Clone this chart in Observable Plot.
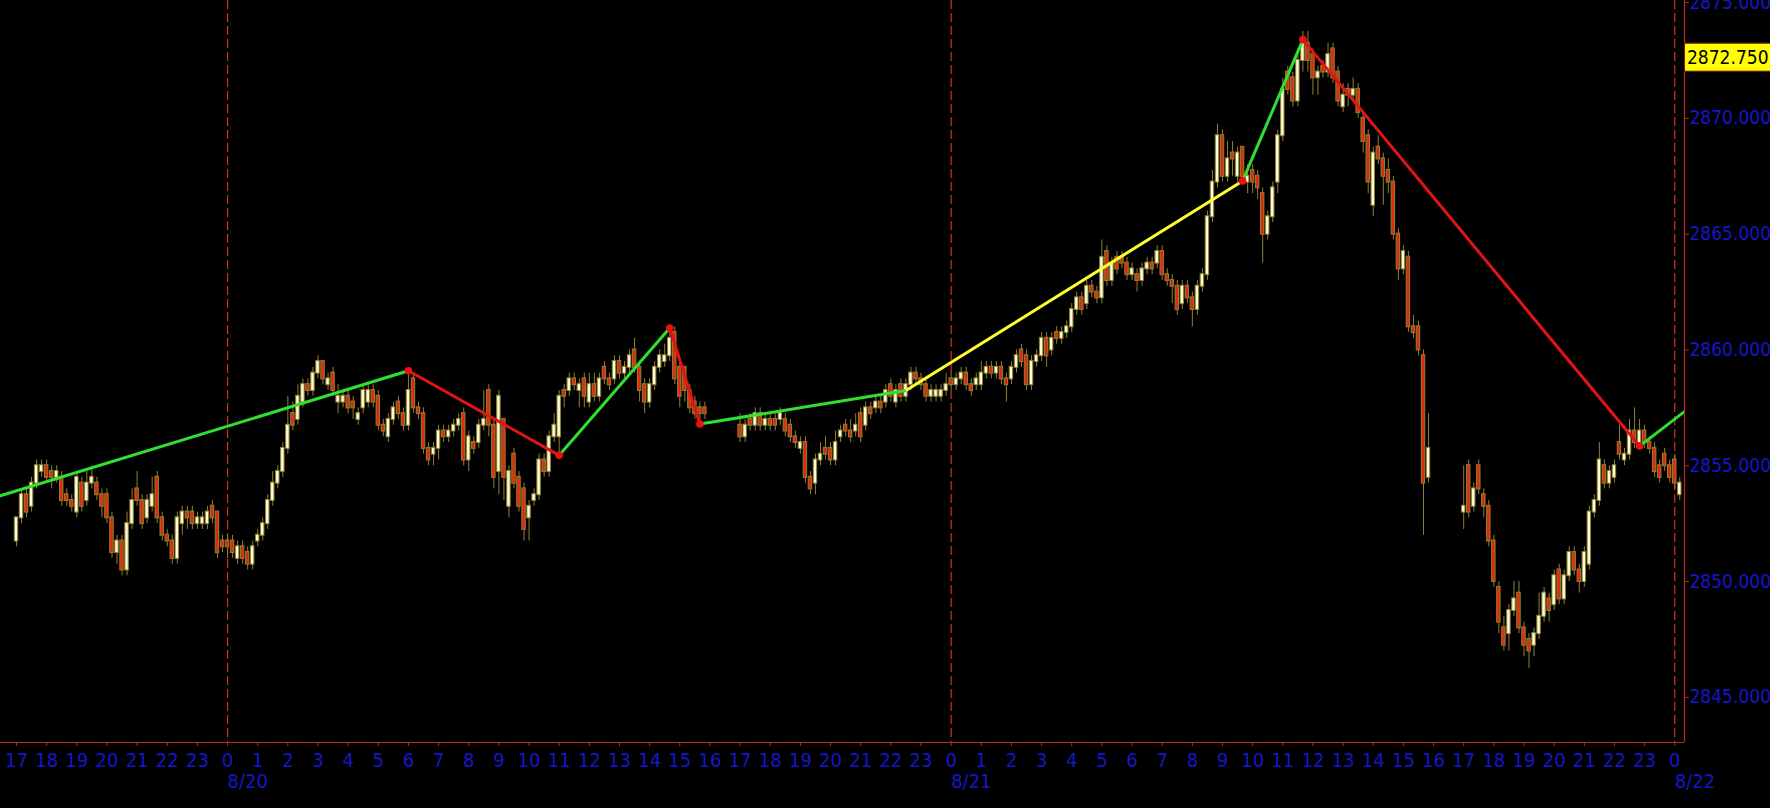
<!DOCTYPE html>
<html><head><meta charset="utf-8">
<script src="https://cdn.jsdelivr.net/npm/d3@7"></script>
<script src="https://cdn.jsdelivr.net/npm/@observablehq/plot@0.6"></script>
<style>html,body{margin:0;padding:0;background:#000;overflow:hidden}</style>
</head><body><div id="chart"></div>
<script>
// ---- DATA: 10-minute bars, [open, high, low, close] ----
const sessionStart = ["2018-08-19T17:00Z", "2018-08-20T17:00Z", "2018-08-21T17:00Z"];

const bars1 = [
[2851.75,2852.75,2851.5,2852.75],[2852.75,2854,2852.5,2853.75],[2853.75,2854,2852.75,2853],[2853.25,2854.5,2853,2854.25],
[2854.25,2855.25,2854,2855],[2854.75,2855.25,2854.5,2855],[2855,2855.25,2854.25,2854.5],[2854.75,2855,2854,2854.5],
[2854.5,2855,2854.25,2854.75],[2854.5,2854.75,2853.25,2853.5],[2853.75,2854,2853.25,2853.5],[2853.5,2853.75,2853,2853.25],
[2853,2854.75,2852.75,2854.5],[2854.25,2854.5,2853,2853.25],[2853.5,2854.75,2853.25,2854.25],[2854.25,2855,2854,2854.5],
[2854.25,2854.5,2853.5,2853.75],[2853.75,2854,2852.75,2853.25],[2853.75,2854,2852.5,2852.75],[2852.75,2853,2851,2851.25],
[2851.25,2852,2850.75,2851.75],[2851.75,2852,2850.25,2850.5],[2850.5,2853,2850.25,2852.5],[2852.5,2854,2852.25,2853.5],
[2854,2854.75,2853.25,2853.5],[2853.5,2853.75,2852.25,2852.5],[2852.75,2853.75,2852.5,2853.5],[2853.25,2854.5,2853,2853.75],
[2854.5,2854.75,2852.5,2852.75],[2852.75,2853,2851.75,2852],[2852,2852.25,2851.5,2851.75],[2851.75,2852,2850.75,2851],
[2851,2853,2850.75,2852.75],[2852.5,2853.25,2852,2853],[2853,2853.25,2852.25,2852.75],[2853,2853.25,2852.25,2852.5],
[2852.5,2853,2852.25,2852.75],[2852.5,2853,2852.25,2852.75],[2852.5,2853.25,2852.25,2853],[2853.25,2853.5,2852.5,2852.75],
[2853,2853,2851,2851.25],[2851.75,2852,2851.25,2851.5],[2851.75,2852,2851,2851.5],[2851.75,2852,2851,2851.25],
[2851,2851.75,2850.75,2851.5],[2851.5,2851.75,2850.75,2851],[2851.25,2851.5,2850.5,2850.75],[2850.75,2851.75,2850.5,2851.5],
[2851.75,2852.25,2851.5,2852],[2852,2852.75,2851.75,2852.5],[2852.5,2853.75,2852.25,2853.5],[2853.5,2854.75,2853.25,2854.25],
[2854.25,2855,2854,2854.75],[2854.75,2856,2854.5,2855.75],[2855.75,2858,2855.5,2856.75],[2857.25,2857.75,2856.5,2856.75],
[2857,2858.5,2856.75,2858],
[2857.75,2858.75,2857.5,2858.5],[2858.5,2858.75,2858,2858.25],[2858.25,2859.25,2858,2859],[2859,2859.75,2858.75,2859.5],
[2859.5,2859.5,2858.5,2858.75],[2858.5,2859,2858.25,2858.75],[2859,2859.25,2858,2858.25],[2857.75,2858.5,2857.25,2858],
[2857.75,2858.25,2857.5,2858],[2858,2858.25,2857.25,2857.5],[2857.75,2858,2857,2857.5],[2857,2857.5,2856.75,2857.25],
[2857.5,2858.5,2857.25,2858.25],[2857.75,2858.5,2857.5,2858.25],[2858.25,2858.5,2857.5,2857.75],[2858,2858.25,2856.5,2856.75],
[2856.75,2857,2856.25,2856.5],[2856.25,2857.25,2856,2857],[2857,2857.75,2856.75,2857.5],[2857.75,2858,2857,2857.25],
[2857.25,2857.5,2856.5,2856.75],[2856.75,2859,2856.5,2858.25],[2858.75,2859,2857.25,2857.5],[2857.5,2857.75,2857,2857.25],
[2857.25,2857.5,2855.5,2855.75],[2855.75,2856,2855,2855.25],[2855.5,2856,2855,2855.75],[2855.75,2856.75,2855.25,2856.5],
[2856.5,2856.75,2856,2856.25],[2856.25,2856.75,2856,2856.5],[2856.5,2857,2856.25,2856.75],[2856.75,2857.25,2856.5,2857],
[2857.25,2857.5,2855,2855.25],[2855.25,2856.5,2854.75,2856.25],[2856,2856.25,2855.5,2855.75],[2856,2857,2855.75,2856.75],
[2856.75,2858.25,2856.5,2857],[2858.25,2858.5,2856.25,2856.75],[2856.75,2857,2854,2854.5],[2854.75,2858.25,2853.75,2858],
[2857,2857,2853.5,2854.5],[2853.25,2855,2852.75,2854.75],[2855.5,2855.75,2854,2854.25],[2854.5,2854.75,2853,2853.25],
[2854,2854.25,2851.75,2852.25],[2852.75,2853.5,2851.75,2853.25],[2853.5,2854,2853.25,2853.75],[2853.75,2855.5,2853.5,2855.25],
[2855.25,2855.5,2854.5,2854.75],[2854.75,2856.5,2854.5,2856.25],[2856.25,2857.25,2856,2856.75],[2856.25,2858.25,2855.5,2858],
[2858.25,2858.5,2857.5,2858],[2858.25,2859,2858,2858.75],[2858.75,2859,2858.25,2858.5],[2858.25,2858.75,2857.5,2858.5],
[2858.75,2859,2857.5,2858],[2857.75,2859,2857.5,2858.5],[2858.5,2859,2857.75,2858],[2858,2859,2857.75,2858.75],
[2859.25,2859.5,2858.5,2858.75],[2858.75,2859,2858.25,2858.5],[2858.75,2859.75,2858.5,2859.5],[2859.5,2859.75,2858.75,2859],
[2859,2859.5,2858.75,2859.25],[2859.25,2860,2859,2859.75],[2860,2860.5,2859,2859.25],[2859.25,2859.5,2857.75,2858.25],
[2858.5,2858.75,2857.25,2857.75],[2857.75,2858.75,2857.5,2858.5],[2858.5,2859.5,2858.25,2859.25],[2859.25,2860,2859,2859.75],
[2859.5,2860.25,2859.25,2859.75],[2859.75,2861,2859.5,2860.5],[2860.75,2861,2858.5,2858.75],[2859.25,2859.5,2857.5,2858],
[2859.25,2859.25,2857.75,2858.25],[2858.25,2858.5,2857.25,2857.5],[2857.75,2858,2857,2857.25],[2857.5,2857.75,2856.75,2857.25],
[2857.5,2857.75,2857,2857.25]
];

const bars2 = [
[2856.75,2857.25,2856,2856.25],[2856.25,2857,2856,2856.75],[2857,2857.25,2856.5,2856.75],[2856.75,2857.5,2856.5,2857.25],
[2857.25,2857.5,2856.5,2856.75],[2856.75,2857.25,2856.5,2857],[2857,2857.25,2856.5,2856.75],[2857,2857.25,2856.5,2856.75],
[2857,2857.5,2856.75,2857.25],[2857,2857.25,2856.25,2856.5],[2856.75,2857,2856,2856.25],[2856.25,2856.5,2855.75,2856],
[2855.75,2856.25,2855.5,2856],[2856,2856.25,2854.25,2854.5],[2854.5,2854.75,2853.75,2854],[2854.25,2855.5,2853.75,2855.25],
[2855.25,2856,2855,2855.5],[2855.75,2856.25,2855.25,2855.5],[2855.75,2856,2855,2855.25],[2855.25,2856.5,2855,2856],
[2856.25,2856.75,2856,2856.5],[2856.75,2857,2856.25,2856.5],[2856.5,2857,2856,2856.25],[2856.5,2857.25,2856.25,2856.75],
[2857.25,2857.5,2856,2856.25],[2856.75,2857.75,2856.5,2857.5],[2857.5,2857.75,2857,2857.25],[2857.5,2858,2857.25,2857.75],
[2857.75,2858,2857.25,2857.5],[2857.75,2858.5,2857.5,2858.25],[2858.5,2858.75,2857.75,2858],[2857.75,2858.5,2857.5,2858.25],
[2858.5,2858.75,2857.75,2858],[2858,2858.75,2857.75,2858.5],[2858.5,2859.25,2858.25,2859],[2859,2859.25,2858.5,2858.75],
[2858.75,2859,2858.25,2858.5],[2858.5,2858.75,2857.75,2858],[2858,2858.5,2857.75,2858.25],[2858,2858.5,2857.75,2858.25],
[2858,2858.5,2857.75,2858.25],[2858.25,2859,2858,2858.5],[2858.75,2859,2858.25,2858.5],[2858.5,2859,2858.25,2858.75],
[2858.75,2859.25,2858.5,2859],[2859,2859.25,2858.25,2858.5],[2858.5,2858.75,2858,2858.25],[2858.5,2859,2858.25,2858.75],
[2858.5,2859.5,2858.25,2859],[2859,2859.5,2858.75,2859.25],[2859.25,2859.5,2858.75,2859],[2859,2859.5,2858.75,2859.25],
[2859.25,2859.5,2858.5,2858.75],[2858.75,2859,2857.75,2858.5],[2858.75,2859.5,2858.5,2859.25],[2859.25,2860,2859,2859.75],
[2860,2860.25,2859.25,2859.5],[2859.75,2860,2858.25,2858.5],[2858.5,2859.75,2858.25,2859.5],[2859.5,2860,2859.25,2859.75],
[2859.75,2860.75,2859.5,2860.5],[2860.5,2860.75,2859.25,2859.75],[2860,2860.75,2859.75,2860.5],[2860.75,2861,2860.25,2860.5],
[2860.5,2861,2860.25,2860.75],[2860.75,2861.25,2860.5,2861],[2861,2862,2860.75,2861.75],[2861.75,2862.5,2861.5,2862.25],
[2862.25,2862.5,2861.5,2861.75],[2862,2863,2861.75,2862.75],[2862.75,2863,2862.25,2862.5],[2862.5,2862.75,2862,2862.25],
[2862.25,2864.75,2862,2864],[2864.25,2864.5,2862.75,2863],[2863,2864,2862.75,2863.75],[2864,2864.25,2863.25,2863.5],
[2864,2864.25,2863.5,2863.75],[2863.75,2864,2863,2863.25],[2863.25,2863.75,2863,2863.5],[2863.25,2863.5,2862.5,2863],
[2863,2863.75,2862.75,2863.5],[2863.5,2864,2863.25,2863.75],[2863.75,2864,2863.25,2863.5],[2863.75,2864.5,2863.5,2864.25],
[2864.25,2864.5,2863,2863.25],[2863.25,2863.5,2862.75,2863],[2863,2863.25,2862,2862.75],[2862.75,2863,2861.5,2861.75],
[2862,2863,2861.75,2862.75],[2862.75,2863,2862,2862.25],[2862.25,2862.5,2861,2861.75],[2861.75,2863,2861.5,2862.75],
[2862.75,2863.5,2862.5,2863.25],[2863.25,2866,2863,2865.75],[2865.75,2867.75,2865.5,2867.25],[2867.25,2869.75,2867,2869.25],
[2869.25,2869.5,2867.25,2867.5],[2867.5,2869,2867.25,2868.25],[2868.5,2869,2867.5,2868.25],[2867.5,2868.75,2867.25,2868.5],
[2868.75,2868.75,2867.25,2867.5],[2867.25,2868,2866.75,2867.5],[2867.75,2868,2866.75,2867.25],[2867.5,2867.75,2866.5,2867],
[2866.75,2867,2863.75,2865],[2865,2866,2864.75,2865.75],[2865.75,2867.25,2865.5,2867],[2867.25,2869.5,2866.75,2869.25],
[2869.25,2871.75,2869,2871.25],[2872,2872.25,2871,2871.25],[2871.75,2872,2870.5,2870.75],[2870.75,2873,2870.5,2872.5],
[2872.5,2873.75,2872,2873.25],[2873.25,2873.75,2872,2872.5],[2872.75,2873,2871,2871.75],[2871.75,2872.25,2871,2872],
[2872.25,2872.5,2871.75,2872],[2872,2873.25,2871.75,2872.75],[2873,2873.25,2871.5,2871.75],[2872,2872.25,2870.5,2870.75],
[2870.5,2871.5,2870.25,2871],[2871.25,2871.5,2870.5,2871],[2871,2871.75,2870.75,2871.25],[2871.25,2871.5,2870,2870.25],
[2870,2870.25,2868.5,2869],[2869.25,2869.5,2866.75,2867.25],[2866.25,2868.75,2865.75,2868.5],[2868.75,2869.25,2868,2868.25],
[2868.25,2868.5,2866.25,2867.5],[2867.75,2868.25,2866.75,2867.25],[2867.25,2867.5,2864.75,2865],[2865,2865.25,2863,2863.5],
[2863.5,2864.5,2863.25,2864.25],[2864,2864.25,2860.75,2861],[2861,2861.5,2860.5,2860.75],[2861,2861.25,2859.75,2860],
[2859.75,2860,2852,2854.25],[2854.5,2857.25,2854.25,2855.75]
];

const bars3 = [
[2853,2855,2852.25,2853.25],[2855,2855.25,2852.75,2853],[2853.25,2854.25,2853,2854],[2855,2855.25,2853.75,2854],
[2853.75,2854,2852.75,2853.25],[2853.25,2853.5,2851.5,2851.75],[2851.75,2852,2849.75,2850],[2849.75,2850,2847.75,2848.25],
[2848,2848.5,2847,2847.25],[2847.75,2849,2847,2848.75],[2848.75,2850,2848.5,2849.25],[2849.5,2850,2847.75,2848],
[2848,2848.25,2846.75,2847.25],[2847.5,2847.75,2846.25,2847],[2847.25,2848,2846.75,2847.75],[2847.75,2849.5,2847.5,2848.5],
[2848.5,2849.75,2848.25,2849.5],[2849.25,2849.5,2848.25,2848.75],[2849,2850.5,2848.75,2850.25],[2850.5,2850.75,2849,2849.25],
[2849.25,2850.5,2849,2850.25],[2850.25,2851.5,2850,2851.25],[2851.25,2851.5,2850.25,2850.5],[2850.5,2850.75,2849.5,2850],
[2850,2851.5,2849.75,2851.25],[2850.75,2853.25,2850.5,2853],[2853,2853.75,2852.75,2853.5],[2853.5,2856,2853.25,2855.25],
[2855,2855.25,2854,2854.25],[2854.25,2855,2854,2854.75],[2854.5,2855.25,2854.25,2855],[2856,2856.75,2855.25,2855.5],
[2855.25,2855.75,2855,2855.5],[2855.5,2857,2855.25,2856.5],[2856.5,2857.5,2855.75,2856],[2856,2857,2855.75,2856.5],
[2856.5,2856.75,2855.75,2856],[2856,2856.25,2855.5,2855.75],[2855.75,2856,2854.5,2854.75],[2855,2855.25,2854.25,2854.5],
[2855.5,2855.75,2854.75,2855],[2855,2855.25,2854.25,2854.5],[2855.25,2855.5,2854,2854.25],[2853.75,2854.5,2853.5,2854.25]
];

// zigzag pivots (first one lies before the visible window)
const pivotTime  = ["2018-08-19T13:40Z","2018-08-20T06:00Z","2018-08-20T11:00Z","2018-08-20T14:40Z","2018-08-20T15:40Z",
                    "2018-08-20T22:30Z","2018-08-21T09:40Z","2018-08-21T11:40Z","2018-08-21T22:50Z","2018-08-22T00:20Z"];
const pivotPrice = [2852.59, 2859.1, 2855.45, 2860.95, 2856.8, 2858.25, 2867.3, 2873.4, 2855.85, 2857.35];
const pivotDot   = [false, true, true, true, true, false, true, true, true, false];
const legKind    = ["up","down","up","down","up","trend","up","down","up"];

const yTicks = [2845, 2850, 2855, 2860, 2865, 2870, 2875];
const markerPrice = 2872.75;

// ---- styles ----
const FONT = "'DejaVu Sans Condensed', 'DejaVu Sans', sans-serif";
const BLUE = "#1616c8", FRAME = "#c02a1c", OLIVE = "#8f8034";
const BULL = "#fffbd2", BEAR = "#e02a0a";
const LEG_COLOR = {up: "#30e030", down: "#e01414", trend: "#ffff30"};

// ---- build tables ----
const MS10 = 600000;
const bars = [];
[bars1, bars2, bars3].forEach((arr, s) => {
  const t0 = +new Date(sessionStart[s]);
  arr.forEach((b, i) => bars.push({t: new Date(t0 + i * MS10), o: b[0], h: b[1], l: b[2], c: b[3]}));
});
const pivots = pivotTime.map((t, i) => ({t: new Date(t), p: pivotPrice[i], dot: pivotDot[i]}));
const legs = legKind.map((k, i) => ({t1: pivots[i].t, p1: pivots[i].p, t2: pivots[i + 1].t, p2: pivots[i + 1].p, color: LEG_COLOR[k]}));

const origin = +new Date(sessionStart[0]);
const xDomain = [new Date(origin - 3.184 * MS10), new Date(origin + 331.94 * MS10)];
const yDomain = [2843.05, 2875.09];
const hourTicks = d3.utcHour.range(new Date("2018-08-19T17:00Z"), new Date("2018-08-22T00:00:01Z"));
const dayTicks = hourTicks.filter(d => d.getUTCHours() === 0);

const plot = Plot.plot({
  width: 1770, height: 808,
  marginLeft: 0, marginRight: 86, marginTop: 0, marginBottom: 66,
  style: {background: "#000", fontFamily: FONT, fontSize: "19px"},
  x: {type: "utc", domain: xDomain, axis: null},
  y: {domain: yDomain, axis: null},
  color: {type: "identity"},
  marks: [
    Plot.ruleX(dayTicks, {x: d => d, stroke: "#d83020", strokeDasharray: "9,4", strokeWidth: 1.2}),
    Plot.ruleX(bars, {x: "t", y1: "l", y2: "h", stroke: OLIVE, strokeWidth: 1}),
    Plot.rect(bars, {
      x1: d => new Date(+d.t - MS10 / 2), x2: d => new Date(+d.t + MS10 / 2),
      y1: d => Math.min(d.o, d.c), y2: d => Math.max(d.o, d.c),
      fill: d => d.c >= d.o ? BULL : BEAR, stroke: OLIVE, strokeWidth: 1,
      insetLeft: 0.8, insetRight: 0.8, insetTop: -0.5, insetBottom: -0.5
    }),
    Plot.link(legs, {x1: "t1", y1: "p1", x2: "t2", y2: "p2", stroke: "color", strokeWidth: 3, clip: true}),
    Plot.dot(pivots.filter(d => d.dot), {x: "t", y: "p", r: 3.8, fill: "#ee1010"}),
    Plot.ruleY([yDomain[0]], {stroke: FRAME, strokeWidth: 1.2}),
    Plot.ruleX([xDomain[1]], {stroke: FRAME, strokeWidth: 1.2}),
    Plot.axisX(hourTicks, {tickSize: 4, tickPadding: 6, stroke: FRAME, fill: BLUE, fontSize: 20,
      tickFormat: d => String(d.getUTCHours()), label: null}),
    Plot.text(dayTicks, {x: d => d, frameAnchor: "bottom", dy: 31, lineAnchor: "top", textAnchor: "start",
      text: d => `${d.getUTCMonth() + 1}/${d.getUTCDate()}`, fill: BLUE, fontSize: 20}),
    Plot.axisY(yTicks, {anchor: "right", tickSize: 4, tickPadding: 1, stroke: FRAME, fill: BLUE, fontSize: 19,
      tickFormat: d => d.toFixed(3), label: null})
  ]
});

// yellow price marker on the right axis
const ns = "http://www.w3.org/2000/svg";
const yPix = plot.scale("y").apply(markerPrice) + 3;
const g = document.createElementNS(ns, "g");
const r = document.createElementNS(ns, "rect");
r.setAttribute("x", 1684.5); r.setAttribute("y", yPix - 14); r.setAttribute("width", 90); r.setAttribute("height", 28);
r.setAttribute("fill", "#ffff00"); r.setAttribute("stroke", "#7a1a00");
const tx = document.createElementNS(ns, "text");
tx.setAttribute("x", 1687); tx.setAttribute("y", yPix); tx.setAttribute("dy", "0.35em");
tx.setAttribute("text-anchor", "start");
tx.setAttribute("fill", "#000"); tx.setAttribute("font-size", 19); tx.setAttribute("font-family", FONT);
tx.textContent = markerPrice.toFixed(3);
g.appendChild(r); g.appendChild(tx);
plot.appendChild(g);

document.getElementById("chart").appendChild(plot);
</script>
</body></html>
